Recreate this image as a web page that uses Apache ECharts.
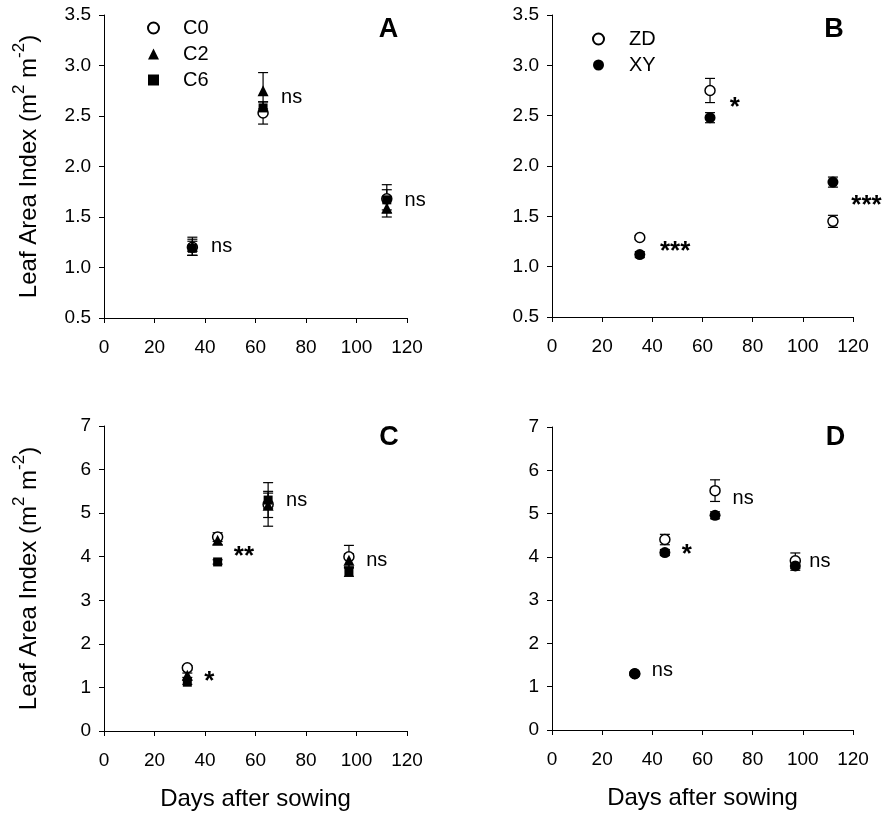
<!DOCTYPE html>
<html><head><meta charset="utf-8">
<script src="https://cdn.jsdelivr.net/npm/echarts@6/dist/echarts.min.js"></script>
<style>html,body{margin:0;padding:0;background:#fff}#c{width:886px;height:813px}</style>
</head><body><div id="c"></div>
<script>
// ---------- data ----------
const xTicks = [0, 20, 40, 60, 80, 100, 120];
// Panel A (cultivation treatments)
const daysA = [35, 63, 112];
const aC0 = [1.20, 2.53, 1.68], aC0Err = [0.08, 0.11, 0.14];
const aC2 = [1.21, 2.75, 1.59], aC2Err = [0.09, 0.18, 0.09];
const aC6 = [1.19, 2.58, 1.67], aC6Err = [0.07, 0.06, 0.10];
// Panel B (cultivars)
const daysB = [35, 63, 112];
const bZD = [1.29, 2.75, 1.45], bZDErr = [0.02, 0.12, 0.06];
const bXY = [1.12, 2.48, 1.84], bXYErr = [0.03, 0.05, 0.05];
// Panel C
const daysC = [33, 45, 65, 97];
const cC0 = [1.45, 4.45, 5.20, 4.00], cC0Err = [0.05, 0.10, 0.50, 0.26];
const cC2 = [1.28, 4.38, 5.18, 3.92], cC2Err = [0.05, 0.10, 0.28, 0.15];
const cC6 = [1.12, 3.88, 5.30, 3.65], cC6Err = [0.05, 0.05, 0.20, 0.10];
// Panel D
const daysD = [33, 45, 65, 97];
const dZD = [1.30, 4.40, 5.53, 3.91], dZDErr = [0.03, 0.12, 0.25, 0.18];
const dXY = [1.30, 4.10, 4.96, 3.79], dXYErr = [0.04, 0.07, 0.08, 0.10];
// significance labels [day, value, text]
const sigA = [[46.6, 1.21, 'ns'], [74.3, 2.68, 'ns'], [123.2, 1.66, 'ns']];
const sigB = [[49.1, 1.15, '***'], [72.9, 2.58, '*'], [125.4, 1.60, '***']];
const sigC = [[41.7, 1.14, '*'], [55.4, 4.00, '**'], [76.3, 5.29, 'ns'], [108.0, 3.92, 'ns']];
const sigD = [[44.0, 1.37, 'ns'], [53.7, 4.05, '*'], [76.2, 5.35, 'ns'], [106.8, 3.89, 'ns']];
const panelLetters = ['A', 'B', 'C', 'D'];
const xTitle = 'Days after sowing';

// ---------- build ----------
const F = '"Liberation Sans", Arial, Helvetica, sans-serif';
const grids = [
  {left: 104, top: 15, width: 303, height: 303},
  {left: 552, top: 15, width: 301, height: 302},
  {left: 104, top: 426, width: 303, height: 305},
  {left: 552, top: 427, width: 301, height: 303}
];
function xAxis(gi) {
  return {
    type: 'value', gridIndex: gi, min: xTicks[0], max: xTicks[xTicks.length - 1], interval: xTicks[1] - xTicks[0],
    axisLine: {show: true, onZero: false, lineStyle: {color: '#000', width: 1}},
    axisTick: {show: true, inside: false, length: 5, lineStyle: {color: '#000', width: 1}},
    axisLabel: {fontSize: 19, color: '#000', fontFamily: F, margin: 20, showMinLabel: true, showMaxLabel: true},
    splitLine: {show: false},
    name: gi >= 2 ? xTitle : '', nameLocation: 'middle', nameGap: 56,
    nameTextStyle: {fontSize: 24, color: '#000', fontFamily: F}
  };
}
function yAxis(gi, min, max, interval, dec, named) {
  return {
    type: 'value', gridIndex: gi, min: min, max: max, interval: interval,
    axisLine: {show: true, lineStyle: {color: '#000', width: 1}},
    axisTick: {show: true, inside: false, length: 5, lineStyle: {color: '#000', width: 1}},
    axisLabel: {fontSize: 19, color: '#000', fontFamily: F, margin: 13, showMinLabel: true, showMaxLabel: true,
      formatter: v => v.toFixed(dec)},
    splitLine: {show: false},
    name: named ? '{t|Leaf Area Index (m}{s|2}{t| m}{s|-2}{t|)}' : '',
    nameLocation: 'middle', nameGap: 63, nameRotate: 90,
    nameTextStyle: {color: '#000', fontFamily: F,
      rich: {t: {fontSize: 24, fontFamily: F, color: '#000', lineHeight: 30, verticalAlign: 'bottom'},
             s: {fontSize: 17, fontFamily: F, color: '#000', lineHeight: 30, verticalAlign: 'top'}}}
  };
}
function errRender(params, api) {
  const x = api.value(0), y = api.value(1), e = api.value(2);
  const hi = api.coord([x, y + e]), lo = api.coord([x, y - e]);
  const w = 5;
  const st = {stroke: '#000', lineWidth: 1.2, fill: null};
  return {type: 'group', children: [
    {type: 'line', shape: {x1: hi[0], y1: hi[1], x2: lo[0], y2: lo[1]}, style: st},
    {type: 'line', shape: {x1: hi[0] - w, y1: hi[1], x2: hi[0] + w, y2: hi[1]}, style: st},
    {type: 'line', shape: {x1: lo[0] - w, y1: lo[1], x2: lo[0] + w, y2: lo[1]}, style: st}
  ]};
}
const styles = {
  C0: {symbol: 'circle', symbolSize: 10, itemStyle: {color: '#fff', borderColor: '#000', borderWidth: 1.5, opacity: 1}},
  C2: {symbol: 'triangle', symbolSize: 11, itemStyle: {color: '#000', borderColor: '#000', borderWidth: 0, opacity: 1}},
  C6: {symbol: 'rect', symbolSize: 9, itemStyle: {color: '#000', borderColor: '#000', borderWidth: 0, opacity: 1}},
  ZD: {symbol: 'circle', symbolSize: 10, itemStyle: {color: '#fff', borderColor: '#000', borderWidth: 1.5, opacity: 1}},
  XY: {symbol: 'circle', symbolSize: 11, itemStyle: {color: '#000', borderColor: '#000', borderWidth: 0, opacity: 1}}
};
const series = [];
function addGroup(gi, name, days, vals, errs) {
  series.push({
    type: 'custom', name: name + ' err', xAxisIndex: gi, yAxisIndex: gi, z: 1, silent: true,
    renderItem: errRender, encode: {x: 0, y: 1},
    data: days.map((d, i) => [d, vals[i], errs[i]])
  });
  series.push(Object.assign({
    type: 'scatter', name: name, xAxisIndex: gi, yAxisIndex: gi, z: 3, silent: true,
    data: days.map((d, i) => [d, vals[i]])
  }, JSON.parse(JSON.stringify(styles[name]))));
}
function addSig(gi, sig) {
  series.push({
    type: 'scatter', name: 'sig' + gi, xAxisIndex: gi, yAxisIndex: gi, z: 4, silent: true, clip: false,
    symbolSize: 0, itemStyle: {color: 'rgba(0,0,0,0)', opacity: 1},
    data: sig.map(s => ({
      value: [s[0], s[1]],
      label: {show: true, position: 'inside', formatter: s[2], color: '#000', opacity: 1, fontFamily: F,
        fontSize: s[2] === 'ns' ? 20 : 26, fontWeight: s[2] === 'ns' ? 'normal' : 'bold'}
    }))
  });
}
addGroup(0, 'C0', daysA, aC0, aC0Err);
addGroup(0, 'C2', daysA, aC2, aC2Err);
addGroup(0, 'C6', daysA, aC6, aC6Err);
addGroup(1, 'ZD', daysB, bZD, bZDErr);
addGroup(1, 'XY', daysB, bXY, bXYErr);
addGroup(2, 'C0', daysC, cC0, cC0Err);
addGroup(2, 'C2', daysC, cC2, cC2Err);
addGroup(2, 'C6', daysC, cC6, cC6Err);
addGroup(3, 'ZD', daysD, dZD, dZDErr);
addGroup(3, 'XY', daysD, dXY, dXYErr);
addSig(0, sigA); addSig(1, sigB); addSig(2, sigC); addSig(3, sigD);

const letterPos = [[388.5, 29.5], [834, 30], [389, 437.5], [835.5, 437.5]];
const option = {
  animation: false,
  backgroundColor: '#fff',
  grid: grids.map(g => Object.assign({containLabel: false}, g)),
  xAxis: [0, 1, 2, 3].map(xAxis),
  yAxis: [yAxis(0, 0.5, 3.5, 0.5, 1, true), yAxis(1, 0.5, 3.5, 0.5, 1, false),
          yAxis(2, 0, 7, 1, 0, true), yAxis(3, 0, 7, 1, 0, false)],
  legend: [
    {orient: 'vertical', left: 142, top: 13, data: ['C0', 'C2', 'C6'], itemWidth: 11, itemHeight: 11, itemGap: 6,
     selectedMode: false, itemStyle: {opacity: 1},
     textStyle: {fontSize: 20, lineHeight: 20, color: '#000', fontFamily: F, padding: [0, 0, 0, 19]}},
    {orient: 'vertical', left: 587, top: 24, data: ['ZD', 'XY'], itemWidth: 11, itemHeight: 11, itemGap: 6,
     selectedMode: false, itemStyle: {opacity: 1},
     textStyle: {fontSize: 20, lineHeight: 20, color: '#000', fontFamily: F, padding: [0, 0, 0, 20]}}
  ],
  graphic: panelLetters.map((t, i) => ({
    type: 'text', x: letterPos[i][0], y: letterPos[i][1], silent: true,
    style: {text: t, fill: '#000', font: 'bold 27px ' + F, textAlign: 'center', textVerticalAlign: 'middle',
            align: 'center', verticalAlign: 'middle'}
  })),
  series: series
};
const chart = echarts.init(document.getElementById('c'), null, {renderer: 'canvas'});
chart.setOption(option);
</script>
</body></html>
